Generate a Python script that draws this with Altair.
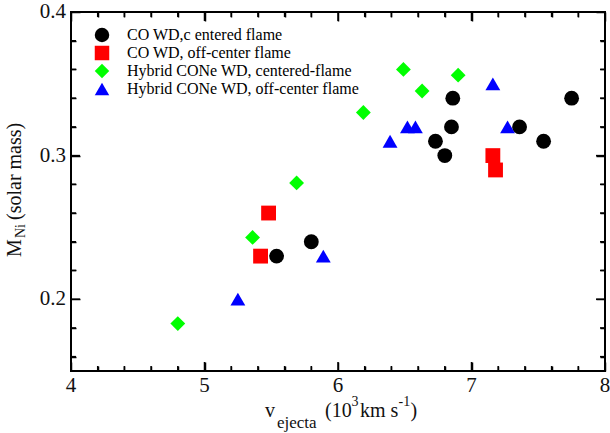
import altair as alt
import numpy as np
import pandas as pd

# --- data: ejecta velocity (10^3 km/s) and synthesized 56Ni mass (solar masses) ---
co_center_v = [5.54, 5.80, 6.73, 6.80, 6.85, 6.86, 7.36, 7.54, 7.75]
co_center_m = [0.23, 0.24, 0.31, 0.30, 0.32, 0.34, 0.32, 0.31, 0.34]

co_off_v = [5.42, 5.48, 7.16, 7.18]
co_off_m = [0.23, 0.26, 0.30, 0.29]

hyb_center_v = [4.80, 5.36, 5.69, 6.19, 6.49, 6.63, 6.90]
hyb_center_m = [0.183, 0.243, 0.281, 0.33, 0.36, 0.345, 0.356]

hyb_off_v = [5.25, 5.89, 6.39, 6.52, 6.58, 7.16, 7.27]
hyb_off_m = [0.20, 0.23, 0.31, 0.32, 0.32, 0.35, 0.32]

series_names = [
    "CO WD,c entered flame",
    "CO WD, off-center flame",
    "Hybrid CONe WD, centered-flame",
    "Hybrid CONe WD, off-center flame",
]
series_colors = ["#000000", "#ff0000", "#00ff00", "#0000ff"]
series_shapes = ["circle", "square", "diamond", "triangle-up"]

x_major = [4, 5, 6, 7, 8]
y_major = [0.2, 0.3, 0.4]
x_tick_labels = ["4", "5", "6", "7", "8"]
y_tick_labels = ["0.2", "0.3", "0.4"]
x_minor = [float(round(v, 2)) for v in np.arange(4.2, 8.0, 0.2) if abs(v - round(v)) > 1e-6]
y_minor = [float(round(v, 2)) for v in np.arange(0.16, 0.40, 0.02) if abs(v * 10 - round(v * 10)) > 1e-6]

frames = []
for name, vs, ms in zip(
    series_names,
    [co_center_v, co_off_v, hyb_center_v, hyb_off_v],
    [co_center_m, co_off_m, hyb_center_m, hyb_off_m],
):
    frames.append(pd.DataFrame({"v": vs, "m": ms, "model": name}))
points_df = pd.concat(frames, ignore_index=True)

W, H = 534, 359
SERIF = "Liberation Serif"

xscale = alt.Scale(domain=[4, 8], nice=False, zero=False)
yscale = alt.Scale(domain=[0.15, 0.4], nice=False, zero=False)

legend = alt.Legend(
    orient="none", legendX=23, legendY=15, title=None,
    labelFont=SERIF, labelFontSize=16, labelColor="#000000",
    symbolSize=210, rowPadding=2, labelOffset=17, padding=0,
    labelLimit=400, symbolStrokeWidth=0,
)

points = alt.Chart(points_df).mark_point(filled=True, opacity=1, strokeWidth=0).encode(
    x=alt.X("v:Q", scale=xscale, axis=None),
    y=alt.Y("m:Q", scale=yscale, axis=None),
    color=alt.Color("model:N", scale=alt.Scale(domain=series_names, range=series_colors), legend=legend),
    shape=alt.Shape("model:N", scale=alt.Scale(domain=series_names, range=series_shapes), legend=legend),
    size=alt.value(220),
)

# inward-pointing ticks: each edge gets a label-less axis of the opposite
# orientation, shifted onto that edge, so its outward ticks point into the plot
MAJ, MIN = 9, 5
xmaj_df = pd.DataFrame({"v": x_major, "label": x_tick_labels})
xmin_df = pd.DataFrame({"v": x_minor})
ymaj_df = pd.DataFrame({"m": y_major, "label": y_tick_labels})
ymin_df = pd.DataFrame({"m": y_minor})


def tick_axis(values, orient, offset, size):
    return alt.Axis(values=values, orient=orient, offset=offset, tickSize=size,
                    tickWidth=1.5, tickColor="#000000", ticks=True, labels=False,
                    domain=False, grid=False, title=None)


tick_layers = []
for df, vals, size in ((xmaj_df, x_major, MAJ), (xmin_df, x_minor, MIN)):
    for orient in ("top", "bottom"):
        tick_layers.append(
            alt.Chart(df).mark_point(opacity=0, size=1).encode(
                x=alt.X("v:Q", scale=xscale, axis=tick_axis(vals, orient, -H, size)))
        )
for df, vals, size in ((ymaj_df, y_major, MAJ), (ymin_df, y_minor, MIN)):
    for orient in ("left", "right"):
        tick_layers.append(
            alt.Chart(df).mark_point(opacity=0, size=1).encode(
                y=alt.Y("m:Q", scale=yscale, axis=tick_axis(vals, orient, -W, size)))
        )

# the same ticks drawn as short rules along each edge
rule_layers = []
for df, size in ((xmaj_df, MAJ), (xmin_df, MIN)):
    for y_a, y_b in ((H, H - size), (0, size)):
        rule_layers.append(
            alt.Chart(df).mark_rule(color="#000000", strokeWidth=1.5).encode(
                x=alt.X("v:Q", scale=xscale, axis=None), y=alt.value(y_a), y2=alt.value(y_b))
        )
for df, size in ((ymaj_df, MAJ), (ymin_df, MIN)):
    for x_a, x_b in ((0, size), (W, W - size)):
        rule_layers.append(
            alt.Chart(df).mark_rule(color="#000000", strokeWidth=1.5).encode(
                y=alt.Y("m:Q", scale=yscale, axis=None), x=alt.value(x_a), x2=alt.value(x_b))
        )

# tick labels placed through the same scales
x_labels = alt.Chart(xmaj_df).mark_text(
    font=SERIF, fontSize=21, color="#111111", align="center", baseline="top"
).encode(x=alt.X("v:Q", scale=xscale, axis=None), y=alt.value(H + 4), text="label:N")
y_labels = alt.Chart(ymaj_df).mark_text(
    font=SERIF, fontSize=21, color="#111111", align="right", baseline="middle"
).encode(y=alt.Y("m:Q", scale=yscale, axis=None), x=alt.value(-5), text="label:N")

one = alt.Data(values=[{}])


def label(text, x, y, size, angle=0, baseline="alphabetic"):
    return alt.Chart(one).mark_text(
        text=text, font=SERIF, fontSize=size, align="left", baseline=baseline,
        angle=angle, color="#111111",
    ).encode(x=alt.value(x), y=alt.value(y))


# x axis title: v_ejecta (10^3 km s^-1)
x0 = 194
xb = 405
x_title = [
    label("v", x0, xb, 20),
    label("ejecta", x0 + 12, xb + 11, 17),
    label("(10", x0 + 60, xb, 20),
    label("3", x0 + 86.5, xb - 11, 14),
    label("km s", x0 + 95, xb, 20),
    label("-1", x0 + 133.5, xb - 11, 14),
    label(")", x0 + 145.5, xb, 20),
]

# y axis title: M_Ni (solar mass), rotated
yx = -50
y0 = 245
y_title = [
    label("M", yx, y0, 20, angle=270),
    label("Ni", yx + 4, y0 - 19, 14, angle=270),
    label("(solar mass)", yx, y0 - 37, 20, angle=270),
]

chart = alt.layer(points, x_labels, y_labels, *x_title, *y_title, *tick_layers, *rule_layers).resolve_axis(
    x="independent", y="independent"
).properties(
    width=W, height=H,
    autosize=alt.AutoSizeParams(type="none"),
    padding={"left": 71, "top": 12, "right": 5, "bottom": 62},
    background="white",
).configure_view(stroke="black", strokeWidth=2)

chart.save("out.html", embed_options={"renderer": "svg", "actions": False})
